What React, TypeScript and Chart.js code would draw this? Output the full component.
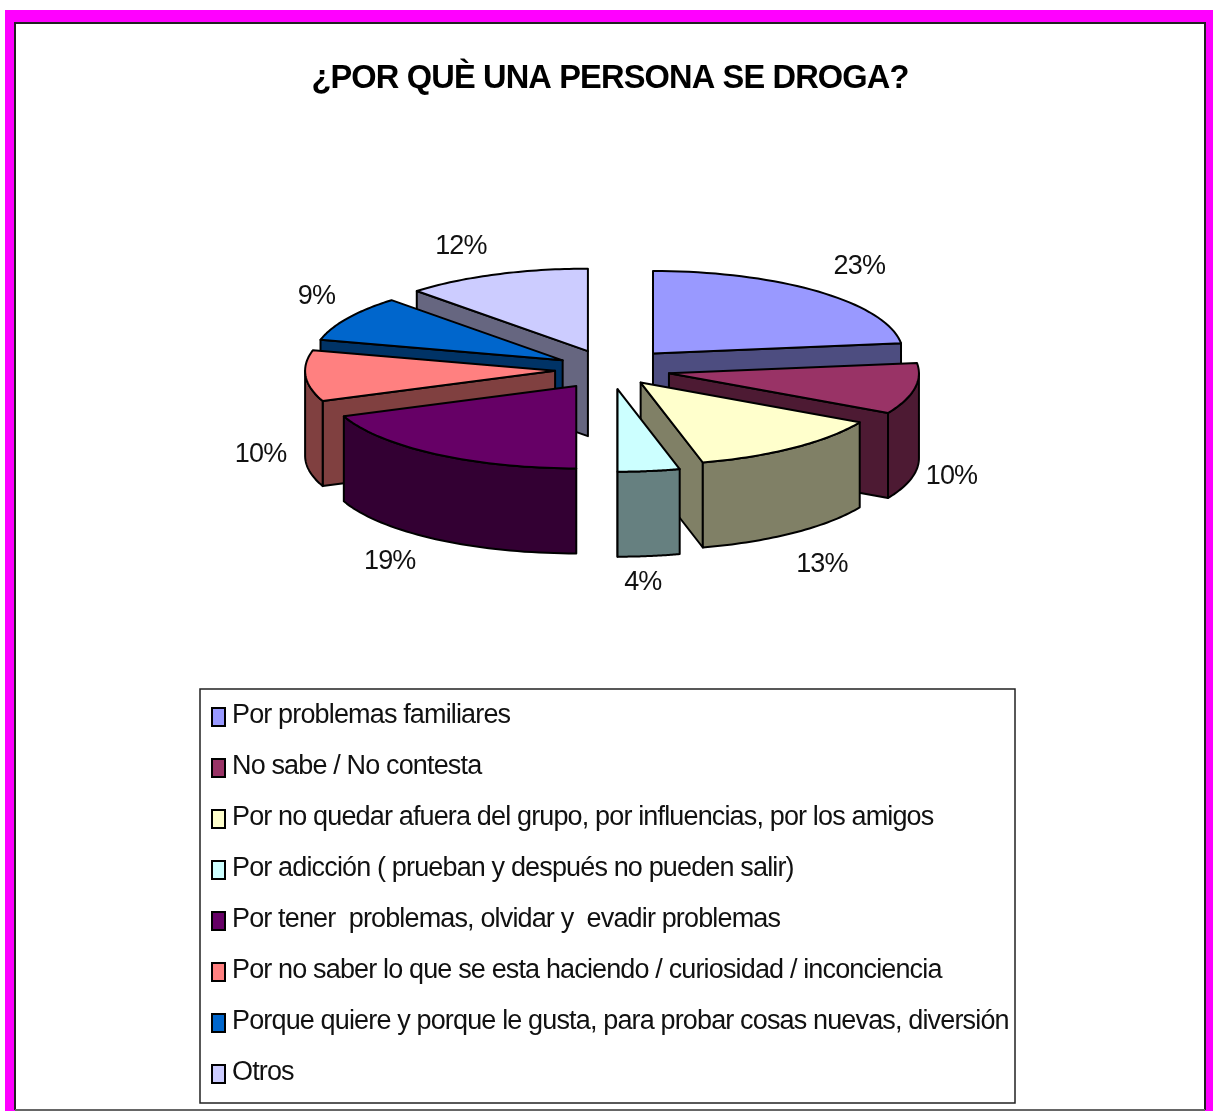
import React, { useEffect, useRef } from "react";
import { Chart, registerables } from "chart.js";

Chart.register(...registerables);

const TITLE = "¿POR QUÈ UNA PERSONA SE DROGA?";
const CATEGORIES = [
  "Por problemas familiares",
  "No sabe / No contesta",
  "Por no quedar afuera del grupo, por influencias, por los amigos",
  "Por adicción ( prueban y después no pueden salir)",
  "Por tener  problemas, olvidar y  evadir problemas",
  "Por no saber lo que se esta haciendo / curiosidad / inconciencia",
  "Porque quiere y porque le gusta, para probar cosas nuevas, diversión",
  "Otros",
];
const VALUES = [23, 10, 13, 4, 19, 10, 9, 12];
const TOP_COLORS = ["#9999FF", "#993366", "#FFFFCC", "#CCFFFF", "#660066", "#FF8080", "#0066CC", "#CCCCFF"];
const WALL_COLORS = ["#4D4D80", "#4D1A33", "#808066", "#668080", "#330033", "#804040", "#003366", "#666680"];
// Chart.js moves an arc by a quarter of its `offset` option.
const EXPLODE = [260, 240, 200, 240, 240, 220, 220, 240];
const LABEL_NUDGE = [[41, -25], [37, 3], [28, 32], [-6, 26], [-46, 22], [-45, -6], [-31, -22], [-35, -28]];

const TILT = 0.33;
const DEPTH = 85;
const RADIUS = 250;
const FONT = "'Liberation Sans', Arial, sans-serif";
const LEGEND_BOX = { left: 200, top: 689, right: 1015, bottom: 1103 };
const ROW_STEP = 51;
const LEGEND_FONT = 27;
const FIRST_ROW_Y = 715.5;
const SWATCH_W = 13;
const SWATCH_H = 18;
const SWATCH_X = 212;
const SWATCH_Y = 717;

function frameAndBox(chart: any) {
  const { ctx } = chart;
  ctx.letterSpacing = "-0.85px";
  ctx.save();
  ctx.fillStyle = "#FFFFFF";
  ctx.fillRect(0, 0, 1213, 1111);
  ctx.fillStyle = "#FF00FF";
  ctx.fillRect(5, 10, 1208, 1101);
  ctx.fillStyle = "#FFFFFF";
  ctx.fillRect(15, 23, 1190, 1086);
  ctx.strokeStyle = "#222222";
  ctx.lineWidth = 2;
  ctx.beginPath();
  ctx.moveTo(15, 1110);
  ctx.lineTo(15, 23);
  ctx.lineTo(1205, 23);
  ctx.lineTo(1205, 1110);
  ctx.stroke();
  ctx.strokeStyle = "#666666";
  ctx.lineWidth = 2;
  ctx.beginPath();
  ctx.moveTo(15, 1110);
  ctx.lineTo(1205, 1110);
  ctx.stroke();
  ctx.strokeStyle = "#222222";
  ctx.lineWidth = 1.5;
  ctx.strokeRect(LEGEND_BOX.left, LEGEND_BOX.top, LEGEND_BOX.right - LEGEND_BOX.left, LEGEND_BOX.bottom - LEGEND_BOX.top);
  ctx.restore();
}

function geometry(a: any) {
  const mid = (a.startAngle + a.endAngle) / 2;
  const off = a.options.offset / 4;
  const ox = a.x + Math.cos(mid) * off;
  const oy = a.y + TILT * Math.sin(mid) * off;
  const r = RADIUS;
  const pt = (t: number) => [ox + r * Math.cos(t), oy + TILT * r * Math.sin(t)];
  return { mid, off, ox, oy, r, pt };
}

function drawWalls(chart: any) {
  const { ctx } = chart;
  const arcs = chart.getDatasetMeta(0).data;
  const order = arcs
    .map((a: any, i: number) => ({ a, i, mid: (a.startAngle + a.endAngle) / 2 }))
    .sort((p: any, q: any) => Math.sin(p.mid) - Math.sin(q.mid));
  ctx.save();
  ctx.strokeStyle = "#000000";
  ctx.lineWidth = 2;
  ctx.lineJoin = "round";
  for (const { a, i } of order) {
    const { ox, oy, pt } = geometry(a);
    ctx.fillStyle = WALL_COLORS[i];
    const quad = (t: number) => {
      const [x, y] = pt(t);
      ctx.beginPath();
      ctx.moveTo(ox, oy);
      ctx.lineTo(x, y);
      ctx.lineTo(x, y + DEPTH);
      ctx.lineTo(ox, oy + DEPTH);
      ctx.closePath();
      ctx.fill();
      ctx.stroke();
    };
    if (Math.cos(a.startAngle) < 0) quad(a.startAngle);
    if (Math.cos(a.endAngle) > 0) quad(a.endAngle);
    const s = Math.max(a.startAngle, 0);
    const e = Math.min(a.endAngle, Math.PI);
    if (e > s) {
      ctx.beginPath();
      const n = 40;
      for (let k = 0; k <= n; k++) {
        const [x, y] = pt(s + ((e - s) * k) / n);
        if (k === 0) ctx.moveTo(x, y);
        else ctx.lineTo(x, y);
      }
      for (let k = n; k >= 0; k--) {
        const [x, y] = pt(s + ((e - s) * k) / n);
        ctx.lineTo(x, y + DEPTH);
      }
      ctx.closePath();
      ctx.fill();
      ctx.stroke();
    }
  }
  ctx.restore();
}

const pie3d = {
  id: "pie3d",
  beforeDraw: frameAndBox,
  afterLayout(chart: any) {
    const padding = chart.options.plugins.legend.labels.padding;
    Object.assign(chart.legend, {
      left: SWATCH_X - padding,
      top: FIRST_ROW_Y - LEGEND_FONT / 2 - padding,
      right: LEGEND_BOX.right,
      bottom: LEGEND_BOX.bottom + padding,
      width: LEGEND_BOX.right - SWATCH_X + padding,
      height: LEGEND_BOX.bottom - FIRST_ROW_Y + LEGEND_FONT / 2 + padding * 2,
    });
  },
  beforeDatasetsDraw(chart: any) {
    drawWalls(chart);
    const arcs = chart.getDatasetMeta(0).data;
    // Arc.draw grows a narrow exploded arc by offset * (1 - sin(sweep)); take that back out.
    arcs.forEach((a: any) => {
      const grow = (a.options.offset / 4) * (1 - Math.sin(Math.min(Math.PI, a.circumference)));
      a.outerRadius = RADIUS - grow;
    });
    const a = arcs[0];
    const { ctx } = chart;
    ctx.save();
    ctx.translate(a.x, a.y);
    ctx.scale(1, TILT);
    ctx.translate(-a.x, -a.y);
  },
  afterDatasetsDraw(chart: any) {
    const { ctx } = chart;
    ctx.restore();
    const arcs = chart.getDatasetMeta(0).data;
    ctx.save();
    ctx.strokeStyle = "#000000";
    ctx.lineWidth = 2;
    ctx.lineJoin = "round";
    arcs.forEach((a: any, i: number) => {
      const { ox, oy, pt } = geometry(a);
      ctx.beginPath();
      ctx.moveTo(ox, oy);
      const n = 40;
      for (let k = 0; k <= n; k++) {
        const [x, y] = pt(a.startAngle + ((a.endAngle - a.startAngle) * k) / n);
        ctx.lineTo(x, y);
      }
      ctx.closePath();
      ctx.fillStyle = TOP_COLORS[i];
      ctx.fill();
      ctx.stroke();
    });
    ctx.fillStyle = "#111111";
    ctx.font = `27px ${FONT}`;
    ctx.textAlign = "center";
    ctx.textBaseline = "middle";
    arcs.forEach((a: any, i: number) => {
      const { mid, ox, oy, r } = geometry(a);
      const x = ox + Math.cos(mid) * r + LABEL_NUDGE[i][0];
      const y = oy + TILT * Math.sin(mid) * r + (Math.sin(mid) > 0 ? DEPTH : 0) + LABEL_NUDGE[i][1];
      ctx.fillText(`${VALUES[i]}%`, x, y);
    });
    ctx.restore();
  },
  afterDraw(chart: any) {
    const { ctx } = chart;
    ctx.save();
    ctx.strokeStyle = "#000000";
    ctx.lineWidth = 2;
    CATEGORIES.forEach((_, i) => {
      const y = SWATCH_Y + i * ROW_STEP - SWATCH_H / 2;
      ctx.fillStyle = TOP_COLORS[i];
      ctx.fillRect(SWATCH_X, y, SWATCH_W, SWATCH_H);
      ctx.strokeRect(SWATCH_X, y, SWATCH_W, SWATCH_H);
    });
    ctx.restore();
  },
};

export default function App() {
  const ref = useRef<HTMLCanvasElement>(null);
  useEffect(() => {
    const chart = new Chart(ref.current!, {
      type: "pie",
      data: {
        labels: CATEGORIES,
        datasets: [
          {
            data: VALUES,
            backgroundColor: TOP_COLORS,
            borderWidth: 0,
            offset: EXPLODE,
            radius: RADIUS,
            clip: false,
          } as any,
        ],
      },
      options: {
        responsive: false,
        animation: false,
        events: [],
        layout: { padding: { left: 20, right: 13, top: 0, bottom: 471 } },
        plugins: {
          tooltip: { enabled: false },
          title: {
            display: true,
            text: TITLE,
            color: "#000000",
            font: { family: FONT, size: 32.6, weight: "bold" },
            padding: { top: 59, bottom: 1 },
          },
          legend: {
            position: "chartArea" as any,
            align: "start",
            labels: {
              boxWidth: 6.5,
              boxHeight: 6,
              padding: ROW_STEP - LEGEND_FONT,
              color: "#111111",
              font: { family: FONT, size: LEGEND_FONT },
            },
          },
        },
      },
      plugins: [pie3d],
    } as any);
    return () => chart.destroy();
  }, []);
  return (
    <div style={{ position: "absolute", left: 0, top: 0, width: 1213, height: 1111, overflow: "hidden" }}>
      <canvas ref={ref} width={1213} height={1111} style={{ display: "block", filter: "blur(0.6px)" }} />
    </div>
  );
}
